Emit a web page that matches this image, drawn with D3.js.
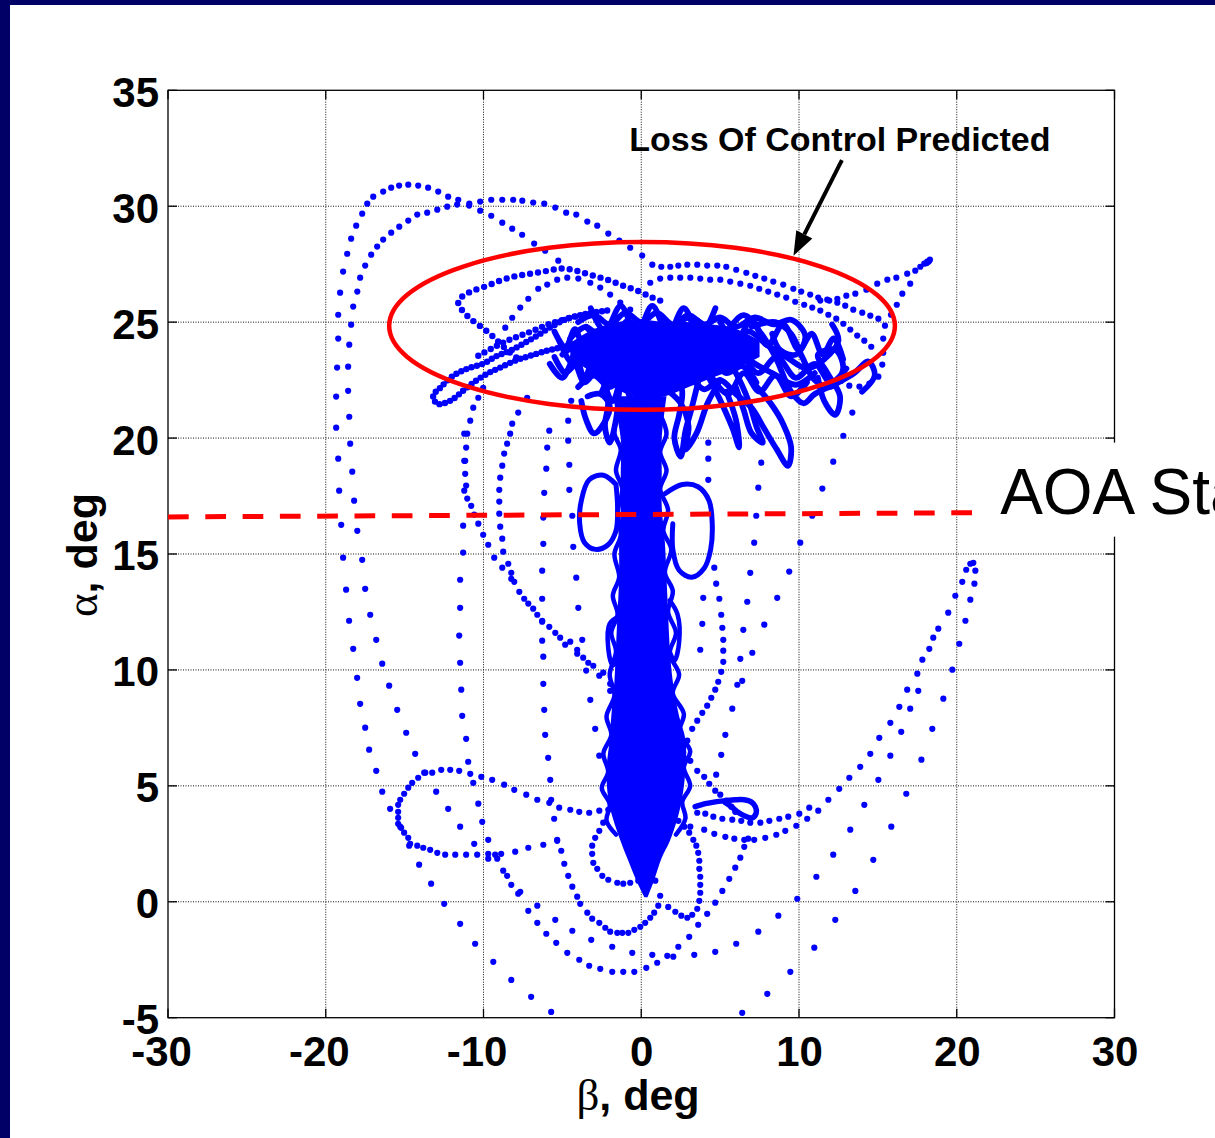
<!DOCTYPE html>
<html><head><meta charset="utf-8">
<script src="https://cdn.jsdelivr.net/npm/d3@7"></script>
<style>body{margin:0;background:#fff}svg{display:block}</style>
</head><body>
<svg id="c" width="1215" height="1138"></svg>
<script>
// ---------- axis ticks ----------
const xTicks = [-30,-20,-10,0,10,20,30];
const yTicks = [-5,0,5,10,15,20,25,30,35];

// ---------- sparse dotted trajectories [beta, alpha] (dots) ----------
const trajOuter = [[-5.26,27.65],[-6.09,28.08],[-6.79,28.39],[-7.55,28.77],[-8.18,29.03],[-8.81,29.29],[-9.51,29.59],[-10.21,29.81],[-10.91,30.03],[-11.6,30.28],[-12.24,30.41],[-12.87,30.63],[-13.51,30.8],[-14.14,30.89],[-14.77,30.93],[-15.35,30.89],[-15.85,30.8],[-16.36,30.63],[-16.99,30.41],[-17.37,30.11],[-17.69,29.68],[-18.07,29.16],[-18.39,28.6],[-18.64,27.95],[-18.9,27.18],[-19.09,26.27],[-19.21,25.32],[-19.21,24.29],[-19.28,23.04],[-19.34,21.79],[-19.34,20.45],[-19.21,19.11],[-19.15,17.73],[-19.02,16.26],[-18.9,14.84],[-18.71,13.46],[-18.52,12.12],[-18.26,10.91],[-18.01,9.66],[-17.82,8.54],[-17.5,7.51],[-17.25,6.56],[-16.8,5.65],[-16.42,4.75],[-15.92,4.01],[-15.28,3.24],[-14.71,2.42],[-14.08,1.6],[-13.32,0.78],[-12.49,-0.09],[-11.48,-0.95],[-10.53,-1.81],[-9.38,-2.59],[-8.24,-3.37],[-6.98,-4.1],[-5.71,-4.75],[6.4,-4.79],[7.99,-3.97],[9.45,-3.02],[10.97,-1.98],[12.3,-0.78],[13.57,0.47],[14.71,1.81],[15.85,3.24],[16.8,4.66],[17.76,6.13],[18.45,7.46],[19.15,8.76],[19.72,10.01],[20.16,11.13],[20.55,12.12],[20.86,13.03],[21.12,13.72],[21.18,14.28],[21.05,14.62]];
const trajInner = [[15.03,25.15],[14.52,25.28],[14.01,25.41],[13.44,25.54],[12.93,25.71],[12.43,25.84],[11.79,25.97],[11.22,26.06],[10.71,26.19],[10.14,26.32],[9.64,26.44],[9.0,26.62],[8.37,26.75],[7.8,26.88],[7.23,27.0],[6.66,27.13],[6.02,27.26],[5.39,27.39],[4.82,27.44],[4.18,27.44],[3.55,27.48],[2.92,27.48],[2.35,27.44],[1.84,27.39],[1.27,27.39],[0.7,27.48],[0.06,27.87],[-0.7,28.21],[-1.39,28.52],[-2.09,28.82],[-2.79,29.16],[-3.42,29.34],[-4.12,29.64],[-4.76,29.72],[-5.45,29.94],[-6.15,30.11],[-6.85,30.16],[-7.54,30.24],[-8.12,30.28],[-8.81,30.28],[-9.51,30.28],[-10.21,30.2],[-10.9,30.11],[-11.67,30.07],[-12.3,29.98],[-12.93,29.85],[-13.57,29.72],[-14.2,29.64],[-14.77,29.38],[-15.34,29.12],[-15.85,28.86],[-16.36,28.56],[-16.74,28.26],[-17.12,27.91],[-17.5,27.44],[-17.82,26.92],[-18.0,26.32],[-18.26,25.67],[-18.39,24.89],[-18.51,24.03],[-18.58,23.08],[-18.58,22.04],[-18.51,20.92],[-18.45,19.76],[-18.32,18.55],[-18.2,17.3],[-18.0,16.0],[-17.69,14.75],[-17.5,13.5],[-17.18,12.38],[-16.8,11.3],[-16.42,10.27],[-15.98,9.32],[-15.47,8.28],[-14.9,7.29],[-14.33,6.38],[-13.69,5.57],[-13.0,4.75],[-12.24,4.01],[-11.48,3.24],[-10.59,2.5],[-9.7,1.86],[-8.75,1.34],[-8.24,0.73],[-7.67,0.43],[-7.16,-0.39],[-6.59,-0.91],[-6.02,-1.38],[-5.39,-1.77],[-4.69,-2.2],[-3.93,-2.5],[-3.3,-2.76],[-2.6,-2.89],[-1.84,-3.02],[-1.14,-3.02],[-0.44,-3.02],[0.32,-2.85],[1.01,-2.63],[1.65,-2.33],[2.35,-1.94],[3.04,-1.51],[3.61,-0.99],[4.18,-0.52],[4.69,-0.04],[5.14,0.47],[5.58,0.99],[5.96,1.47],[6.28,1.9],[6.53,2.37],[6.78,2.72],[7.16,2.67],[7.86,2.76],[8.56,2.89],[9.13,3.06],[9.83,3.28],[10.52,3.58],[11.22,3.93],[11.86,4.4],[12.55,4.87],[13.19,5.35],[13.88,5.82],[14.52,6.38],[15.09,7.07],[15.79,7.72],[16.36,8.41],[16.86,9.15],[17.5,9.84],[17.82,10.44],[18.26,10.91],[18.51,11.39],[18.83,11.78],[19.46,12.47],[19.91,13.2],[20.35,13.8],[20.6,14.32],[20.86,14.58]];
const trajLeftDrop = [[-11.22,20.19],[-11.22,19.02],[-11.22,17.73],[-11.29,16.22],[-11.29,15.06],[-11.48,13.89],[-11.48,12.68],[-11.54,11.48],[-11.48,10.31],[-11.41,9.15],[-11.35,8.02],[-11.1,7.03],[-10.97,6.04],[-10.65,5.13],[-10.33,4.23],[-10.08,3.45],[-9.7,2.67],[-9.13,1.86],[-8.5,1.12],[-7.8,0.35],[-6.59,-0.17],[-5.45,-0.78],[-4.37,-1.25],[-3.17,-1.64],[-1.84,-1.94],[-0.57,-2.2],[0.7,-2.29],[2.03,-2.37],[3.36,-2.29],[4.69,-2.16],[6.02,-1.81],[7.42,-1.29],[8.69,-0.6],[9.89,0.13],[11.1,1.08],[12.17,2.03],[13.25,3.11],[14.14,4.18],[15.03,5.26],[15.79,6.3],[16.48,7.33],[17.05,8.33],[17.56,9.1]];
const trajMidDrop = [[-5.83,20.32],[-5.96,19.59],[-6.02,18.68],[-6.15,17.64],[-6.21,16.57],[-6.21,15.44],[-6.28,14.28],[-6.28,13.07],[-6.28,12.08],[-6.28,11.26],[-6.21,10.57],[-6.21,9.4],[-6.15,8.28],[-6.09,7.2],[-5.9,6.21],[-5.77,5.26],[-5.71,4.4],[-5.52,3.58],[-5.33,2.67],[-5.07,2.2],[-4.88,1.64],[-4.63,1.12],[-4.37,0.65],[-4.06,0.22],[-3.87,-0.09],[-3.42,-0.47],[-3.11,-0.73],[-2.66,-0.91],[-2.28,-1.12],[-1.97,-1.29],[-1.52,-1.34],[-1.2,-1.34],[-0.82,-1.34],[-0.44,-1.21],[-0.06,-1.08],[0.25,-0.91],[0.57,-0.69],[0.82,-0.47],[1.08,-0.17]];
const trajDropA = [[-7.23,21.74],[-7.8,21.1],[-8.18,20.62],[-8.31,20.19],[-8.5,19.76],[-8.69,19.33],[-8.81,18.81],[-8.94,18.29],[-9.0,17.77],[-9.0,17.26],[-9.0,16.74],[-8.94,16.18],[-8.81,15.66],[-8.75,15.1],[-8.43,14.58],[-8.24,14.19],[-8.05,13.8],[-7.73,13.37],[-7.16,12.86],[-6.59,12.38],[-5.83,11.86],[-5.14,11.39],[-4.5,11.22],[-4.06,10.87],[-3.68,10.53],[-3.04,10.18],[-2.41,9.88],[-1.97,9.4]];
const trajDropB = [[-10.02,22.17],[-10.33,21.74],[-10.65,21.31],[-10.84,20.75],[-11.03,20.19],[-11.1,19.59],[-11.16,19.02],[-11.16,18.46],[-11.1,17.95],[-11.03,17.39],[-10.78,17.08],[-10.59,16.7],[-10.33,16.31],[-10.02,15.83],[-9.7,15.4],[-9.32,14.84],[-8.81,14.41],[-8.24,13.93],[-7.42,13.07],[-6.85,12.64],[-6.28,12.12],[-5.45,11.6],[-4.82,11.09],[-4.06,10.7],[-3.36,10.31],[-2.66,9.75],[-1.97,9.1]];
const trajDropC = [[-4.44,21.61],[-4.63,20.75],[-4.63,19.89],[-4.56,18.85],[-4.56,17.77],[-4.37,16.65],[-4.31,15.31],[-4.12,13.98],[-3.99,12.68],[-3.74,11.3],[-3.49,9.97],[-3.23,8.71],[-2.92,7.46],[-2.66,6.3]];
const trajRightA = [[13.38,21.1],[12.81,20.1],[12.17,18.98],[11.48,17.82],[10.84,16.65],[10.08,15.49],[9.38,14.24],[8.62,13.11],[7.8,11.95],[7.04,10.74],[6.4,9.53],[5.77,8.33],[5.33,7.2],[5.07,6.34],[4.75,5.48]];
const trajRightB = [[7.61,18.94],[7.42,17.86],[7.29,16.65],[7.16,15.49],[6.91,14.19],[6.72,12.94],[6.47,11.73],[6.28,10.48],[6.09,9.36]];
const trajRightC = [[4.25,19.8],[4.25,19.11],[4.25,18.2],[4.63,14.41],[4.75,13.72],[4.95,13.07],[5.07,12.38],[5.14,11.82],[5.2,11.3],[5.2,10.83],[5.2,10.35],[5.07,9.92],[4.88,9.49],[4.69,9.15],[4.44,8.8],[4.18,8.46],[3.87,8.15],[3.55,7.81],[3.23,7.46],[2.92,6.95],[2.66,6.43]];
const trajRightD = [[3.93,13.11],[3.87,11.99],[3.74,10.87]];
const loopLowLeft = [[-1.33,4.14],[-2.09,3.97],[-2.66,3.93],[-3.3,3.84],[-3.93,3.88],[-4.5,3.97],[-5.2,4.06],[-5.83,4.27],[-6.59,4.4],[-7.29,4.62],[-8.05,4.83],[-8.69,5.05],[-9.45,5.26],[-10.14,5.39],[-10.84,5.52],[-11.54,5.65],[-12.11,5.69],[-12.68,5.69],[-13.25,5.57],[-13.76,5.57],[-14.14,5.35],[-14.52,5.13],[-14.77,4.92],[-15.03,4.66],[-15.28,4.4],[-15.41,4.18],[-15.41,3.88],[-15.41,3.62],[-15.41,3.36],[-15.22,3.19],[-15.03,2.98],[-14.77,2.76],[-14.65,2.5],[-14.2,2.42],[-13.82,2.33],[-13.38,2.24],[-12.93,2.11],[-12.43,2.03],[-11.79,2.03],[-11.1,2.03],[-10.4,2.03],[-9.7,2.07],[-9.26,2.03],[-8.88,2.07],[-7.99,2.16],[-7.16,2.33],[-6.21,2.46],[-5.33,2.63]];
const loopLowMid = [[-2.41,3.41],[-2.66,3.06],[-2.92,2.76],[-3.11,2.42],[-3.11,2.07],[-3.04,1.68],[-2.79,1.42],[-2.47,1.12],[-2.09,0.95],[-1.52,0.82],[-1.14,0.78],[-0.7,0.82],[-0.19,0.91]];
const loopLowRight = [[0.89,0.91],[1.2,0.26],[1.71,-0.22],[2.16,-0.43],[2.54,-0.6],[2.92,-0.69],[3.23,-0.56],[3.55,-0.3],[3.68,0.04],[3.74,0.39],[3.74,0.73],[3.74,1.08],[3.68,1.42],[3.68,1.77],[3.61,2.11],[3.49,2.42],[3.3,2.67],[3.04,2.98],[2.73,3.24],[2.35,3.49],[1.9,3.71]];
const arcLow1 = [[3.55,3.84],[4.06,3.8],[4.57,3.67],[5.14,3.58],[5.77,3.54],[6.34,3.49],[6.91,3.41],[7.55,3.41],[8.12,3.49],[8.75,3.58],[9.32,3.67],[10.02,3.8],[10.65,4.06]];
const arcLow2 = [[3.11,3.24],[3.99,3.11],[4.63,2.93],[5.33,2.8],[5.9,2.72],[6.53,2.67]];
const diagLow = [[3.11,6.08],[3.55,5.65],[3.99,5.39],[4.31,5.09],[4.69,4.79],[5.01,4.62],[5.39,4.36],[5.71,4.1],[5.96,3.88]];
const arcTopA = [[0.57,26.7],[1.2,26.88],[1.84,26.92],[2.47,26.92],[3.11,26.92],[3.74,26.88],[4.37,26.83],[5.01,26.83],[5.64,26.75],[6.28,26.66],[6.91,26.57],[7.48,26.44],[8.05,26.32],[8.62,26.19],[9.19,26.06],[9.76,25.88],[10.33,25.75],[10.84,25.63],[11.35,25.5],[11.86,25.32],[12.36,25.15],[12.81,24.93],[13.25,24.68],[13.69,24.42],[14.14,24.2],[14.58,23.94]];
const tailTop = [[11.35,25.93],[11.92,25.93],[12.43,26.01],[13.0,26.14],[13.57,26.23],[14.27,26.4],[14.96,26.66],[15.6,26.83],[16.17,26.92],[16.86,27.09],[17.37,27.22],[17.69,27.39],[17.94,27.52],[18.13,27.61],[18.26,27.65]];
const tailEnd = [[18.1,27.55],[18.3,27.7],[18.2,27.6]];
const loopRight = [[17.05,26.66],[16.55,26.23],[16.2,25.75],[15.83,25.32],[15.45,24.85],[15.34,24.29],[15.34,23.68],[15.28,23.17],[15.03,22.65],[14.46,22.35],[13.83,22.22],[13.19,22.26],[12.68,22.47]];
const arcTopC = [[-8.62,24.76],[-8.18,25.19],[-7.67,25.63],[-7.16,26.01],[-6.53,26.44],[-5.96,26.62],[-5.33,26.83],[-4.69,26.92],[-3.99,26.88],[-3.23,26.7],[-2.6,26.49],[-1.97,26.19],[-1.33,25.84],[-0.7,25.54]];

// ---------- beaded (closely dotted) trajectories ----------
const loopTopLeft = [[1.2,25.93],[0.57,26.1],[-0.25,26.36],[-1.14,26.57],[-1.97,26.79],[-2.79,26.96],[-3.68,27.13],[-4.37,27.26],[-5.14,27.31],[-5.9,27.22],[-6.66,27.13],[-7.42,27.05],[-8.12,26.96],[-8.94,26.79],[-9.76,26.57],[-10.65,26.36],[-11.29,26.14],[-11.6,25.88],[-11.48,25.63],[-11.16,25.37],[-10.84,25.15],[-10.33,24.89],[-9.76,24.59],[-9.26,24.29],[-8.81,23.99],[-8.31,23.68],[-7.8,23.42]];
const armLeft = [[-2.16,25.5],[-3.42,25.37],[-4.69,25.15],[-5.58,24.85],[-6.59,24.42],[-7.48,24.07],[-8.31,23.77],[-9.13,23.55],[-10.02,23.21],[-11.03,22.99],[-11.92,22.69],[-12.74,22.17],[-13.19,21.83],[-12.93,21.48],[-12.11,21.61],[-11.29,22.04],[-10.65,22.39],[-9.76,22.78],[-8.94,23.04],[-7.99,23.34],[-7.04,23.55],[-5.96,23.77],[-5.14,23.9],[-4.06,24.07],[-2.92,24.2]];
const armLeft2 = [[-10.33,23.55],[-9.38,23.9],[-8.5,24.2],[-7.67,24.42],[-6.85,24.63],[-5.96,24.89],[-5.14,25.06],[-4.18,25.24],[-3.23,25.32]];

// ---------- dense tangles (solid-looking) ----------
const messBeta   = [-4.5,-3,-1.5,0,1.5,3,4.5,6,7.5];
const messTop    = [24.1,24.7,25.0,25.1,25.0,25.0,24.9,24.7,24.2];
const messBottom = [23.4,22.8,22.1,21.7,21.8,22.2,22.6,23.0,23.5];
const messLines = [
 [[-4,25.0],[-3,25.3],[-2,24.9],[-1,25.4],[0,25.0],[1,25.4],[2,24.9],[3,25.3],[4,24.9],[5,25.2],[6,24.8],[7.2,25.2],[8.4,24.9],[9.5,25.1],[10.4,24.4],[9.8,23.6],[8.8,23.8],[8.3,24.5]],
 [[-4.5,24.3],[-3.5,24.8],[-2.5,24.3],[-1.5,24.8],[-0.5,24.2],[0.5,24.7],[1.5,24.2],[2.5,24.8],[3.5,24.3],[4.5,24.7],[5.5,24.2],[6.8,24.6],[8,24.0],[9.2,23.5],[10.5,23.0],[11.6,23.4],[12.5,24.2],[12.1,24.9]],
 [[-5,23.6],[-4,24.0],[-3,23.5],[-2,24.1],[-1,23.6],[0,24.0],[1,23.5],[2,24.1],[3,23.6],[4,24.0],[5,23.5],[6,23.9],[7,23.3],[8.3,22.8],[9.8,22.3],[11,22.8]],
 [[-4.6,22.9],[-3.6,23.4],[-2.6,22.9],[-1.6,23.4],[-0.6,22.9],[0.4,23.4],[1.4,22.8],[2.4,23.3],[3.4,22.8],[4.4,23.3],[5.4,22.8],[6.4,23.1],[7.3,22.4]],
 [[-4,22.2],[-3,22.7],[-2,22.2],[-1,22.7],[0,22.2],[1,22.6],[2,22.1],[3,22.6],[4,22.1],[5,22.5],[6,21.9],[7.0,21.3],[7.8,20.4],[8.6,19.5],[9.3,18.8],[9.5,19.6],[9.0,20.6],[8.2,21.5],[7.2,22.3]],
 [[-3.5,24.8],[-2,24.0],[-1,24.6],[0,23.6],[1,24.2],[2,23.2],[3,24.0],[4,23.0],[5,23.8],[6,22.8],[6.8,21.6],[7.3,20.5],[7.7,19.8],[7.0,20.2],[6.5,21.2],[6.0,22.2]],
 [[-2.5,22.0],[-1.5,23.0],[-0.5,22.0],[0.5,23.2],[1.5,22.2],[2.5,21.5],[3,20.5],[2.8,19.5],[3.5,20.2],[4.2,21.5],[5,22.5]],
 [[7,24.8],[8.5,25.0],[9.5,24.5],[10.2,23.5],[11,22.5],[12,22.2],[12.8,23.0],[12.3,23.8],[11.2,23.6],[11.8,22.8],[12.6,21.8],[12.3,21.0],[11.6,21.6],[11.2,22.6]],
 [[-1,25.0],[1,24.2],[3,25.2],[5,24.5],[6.5,25.3],[7.5,24.6],[8.5,23.5],[9.5,22.0],[10.3,21.5],[11,21.9],[12.5,22.4],[13.5,22.8],[14.4,23.3],[14.8,22.7],[14.0,22.0]],
 [[-5.5,23.5],[-4.8,22.8],[-4.2,23.6],[-3.6,22.6],[-3,23.4],[-2.4,22.4],[-1.8,21.6],[-1.2,22.6],[-0.5,21.5],[0.3,22.5]],
 [[-2.5,23.5],[-2.3,22.5],[-2.1,21.5],[-2.3,20.5],[-2.0,19.8],[-1.6,20.8],[-1.4,22.0],[-1.2,23.0]],
 [[2.2,23.0],[2.6,22.0],[2.4,21.0],[2.1,20.0],[2.5,19.2],[2.8,20.3],[3.2,21.3],[3.6,22.4]],
 [[3.8,23.2],[4.6,22.2],[5.3,21.2],[5.8,20.4],[6.2,19.6],[6.0,20.8],[5.4,22.0]],
 [[-3.8,21.6],[-3.5,20.8],[-3.0,20.2],[-2.4,20.6],[-2.0,21.4],[-2.6,21.9],[-3.4,21.8]],
 [[-5.2,24.2],[-4.3,23.2],[-3.2,24.4],[-2.2,23.2],[-1.2,24.3],[-0.2,23.1],[0.8,24.4],[1.8,23.0],[2.8,24.4],[3.8,23.1],[4.8,24.3],[5.8,23.0],[6.8,24.2]],
 [[-3.2,25.6],[-2.3,24.6],[-1.3,25.7],[-0.3,24.5],[0.7,25.7],[1.7,24.5],[2.7,25.6],[3.7,24.4],[4.7,25.6]],
 [[5,25.0],[6,24.2],[7,25.1],[8,24.0],[9,24.9],[10,23.8],[10.8,24.5],[11.5,23.6],[12.2,24.3],[12.8,23.4]],
 [[5,23.0],[6.2,23.6],[7.4,22.8],[8.6,23.5],[9.8,22.6],[11,23.2],[12,22.4],[13,23.0]],
 [[4.5,22.6],[5.5,21.9],[6.5,22.8],[7.5,22.0],[8.5,22.7],[9.5,21.8],[10.5,22.4]],
 [[-5.5,24.6],[-4.8,23.9],[-4.2,24.7],[-3.6,23.8],[-3.0,24.6]],
 [[-5.8,23.2],[-5.0,22.6],[-4.3,23.3],[-3.6,22.4],[-2.8,23.1]]
];
const columnEdges = [
 [[-1.5,21.0],[-1.7,20.2],[-1.3,19.5],[-1.6,18.6],[-1.2,17.8],[-1.5,16.8],[-1.3,15.8],[-1.7,15.0],[-1.4,14.0],[-1.8,13.2],[-1.5,12.4],[-1.9,11.6],[-1.6,10.8],[-2.0,9.8],[-1.7,8.9],[-2.2,8.0],[-1.9,7.2],[-2.4,6.4],[-2.1,5.6],[-2.5,4.9],[-2.0,4.2],[-2.2,3.5],[-1.6,2.9]],
 [[-1.4,12.3],[-2.0,12.0],[-2.1,11.0],[-1.8,10.2],[-1.4,10.6]],
 [[1.2,21.0],[1.6,20.2],[1.2,19.4],[1.6,18.6],[1.2,17.8],[1.7,16.9],[1.4,16.0],[1.9,15.2],[1.5,14.2],[2.0,13.4],[1.7,12.5],[2.2,11.6],[1.8,10.7],[2.4,9.8],[2.0,9.0],[2.7,8.1],[2.4,7.3],[3.1,6.5],[2.7,5.8],[3.1,5.0],[2.6,4.3],[2.8,3.6],[2.2,2.9]],
 [[1.8,13.0],[2.3,12.4],[2.4,11.2],[2.1,10.4],[1.8,10.8]]
];
const ringLeft = [[-1.6,18.0],[-2.4,18.4],[-3.3,18.2],[-3.8,17.3],[-3.9,16.3],[-3.6,15.5],[-2.9,15.2],[-2.1,15.4],[-1.6,16.0],[-1.5,17.0],[-1.6,18.0]];
const ringRight = [[1.5,17.6],[2.6,18.0],[3.6,17.9],[4.3,17.3],[4.5,16.3],[4.4,15.2],[4.0,14.4],[3.2,14.0],[2.4,14.3],[2.0,15.2],[2.0,16.3]];
const loopSmallRight = [[3.42,4.1],[4.06,4.23],[4.69,4.31],[5.33,4.36],[5.96,4.4],[6.53,4.4],[6.97,4.31],[7.23,4.1],[7.29,3.84],[7.04,3.62],[6.53,3.71],[6.09,3.88],[5.71,4.1],[5.33,4.27]];

// dense column envelope
const colAlpha = [21.8,20,18.5,17,15.5,14,12.5,11,9.5,8,7,5.7,4.5,3.6,2.6,1.9,0.9,0.2];
const colLeft  = [-1.8,-1.3,-1.3,-1.3,-1.4,-1.4,-1.5,-1.6,-1.7,-1.9,-2.0,-2.2,-2.1,-1.8,-1.3,-0.9,-0.3,0.2];
const colRight = [1.6,1.3,1.3,1.3,1.5,1.6,1.7,1.8,2.0,2.4,2.8,2.8,2.6,2.3,1.8,1.3,0.8,0.4];

// annotations
const lossEllipse = {beta:0.05, alpha:24.84, rBeta:16.03, rAlpha:3.62};
const stallLine = [[-30,16.6],[21.17,16.78]];
const arrowPts = [[12.72,31.99],[9.65,27.86]];
const titleText = "Loss Of Control Predicted";
const stallText = "AOA Stall";

// ---------- drawing ----------
const W=1215,H=1138;
const svg=d3.select('#c');
const x=d3.scaleLinear().domain([-30,30]).range([168,1114.5]);
const y=d3.scaleLinear().domain([-5,35]).range([1017.7,90.3]);
const BLUE='#0000ff';
const FONT='"Liberation Sans", Arial, sans-serif';

svg.append('rect').attr('width',W).attr('height',H).attr('fill','#fff');
svg.append('rect').attr('x',0).attr('y',0).attr('width',W).attr('height',5).attr('fill','#000066');
svg.append('rect').attr('x',0).attr('y',0).attr('width',10).attr('height',H).attr('fill','#000066');

// grid
const g=svg.append('g');
g.selectAll('.gx').data(xTicks.slice(1,-1)).join('line')
 .attr('x1',d=>x(d)).attr('x2',d=>x(d)).attr('y1',y(-5)).attr('y2',y(35))
 .attr('stroke','#111').attr('stroke-width',1).attr('stroke-dasharray','1,1.5');
g.selectAll('.gy').data(yTicks.slice(1,-1)).join('line')
 .attr('y1',d=>y(d)).attr('y2',d=>y(d)).attr('x1',x(-30)).attr('x2',x(30))
 .attr('stroke','#111').attr('stroke-width',1).attr('stroke-dasharray','1,1.5');

// clip for data
svg.append('clipPath').attr('id','pc').append('rect')
 .attr('x',x(-30)).attr('y',y(35)).attr('width',x(30)-x(-30)).attr('height',y(-5)-y(35));
const dg=svg.append('g').attr('clip-path','url(#pc)');

// dense column
const colData=colAlpha.map((a,i)=>[a,colLeft[i],colRight[i]]);
dg.append('path').datum(colData)
 .attr('d',d3.area().y(d=>y(d[0])).x0(d=>x(d[1])).x1(d=>x(d[2])).curve(d3.curveCatmullRom))
 .attr('fill',BLUE);
// dense core of the tangle
const messData=messBeta.map((b,i)=>[b,messBottom[i],messTop[i]]);
dg.append('path').datum(messData)
 .attr('d',d3.area().x(d=>x(d[0])).y0(d=>y(d[1])).y1(d=>y(d[2])).curve(d3.curveCatmullRom))
 .attr('fill',BLUE);

const lineGen=d3.line().x(d=>x(d[0])).y(d=>y(d[1])).curve(d3.curveCatmullRom);
function solid(pts,w){dg.append('path').datum(pts).attr('d',lineGen).attr('fill','none')
 .attr('stroke',BLUE).attr('stroke-width',w).attr('stroke-linecap','round').attr('stroke-linejoin','round');}
function beaded(pts,gap){dg.append('path').datum(pts).attr('d',lineGen).attr('fill','none')
 .attr('stroke',BLUE).attr('stroke-width',6.4).attr('stroke-linecap','round').attr('stroke-dasharray','0 '+gap);}
function dots(pts){dg.append('g').selectAll('circle').data(pts).join('circle')
 .attr('cx',d=>x(d[0])).attr('cy',d=>y(d[1])).attr('r',3.1).attr('fill',BLUE);}

messLines.forEach(p=>solid(p,5.8));
columnEdges.forEach(p=>solid(p,4.5));
solid(ringLeft,5); solid(ringRight,5); solid(loopSmallRight,5.5);
beaded(armLeft,5.5); beaded(armLeft2,7); beaded(loopTopLeft,8);
[trajOuter,trajInner,trajLeftDrop,trajMidDrop,trajDropA,trajDropB,trajDropC,trajRightA,trajRightB,trajRightC,trajRightD,
 loopLowLeft,loopLowMid,loopLowRight,arcLow1,arcLow2,diagLow,arcTopA,tailTop,tailEnd,loopRight,arcTopC].forEach(dots);

// frame and ticks
svg.append('rect').attr('x',x(-30)).attr('y',y(35)).attr('width',x(30)-x(-30)).attr('height',y(-5)-y(35))
 .attr('fill','none').attr('stroke','#000').attr('stroke-width',1.3);
const tk=svg.append('g').attr('stroke','#000').attr('stroke-width',1.3);
xTicks.forEach(d=>{tk.append('line').attr('x1',x(d)).attr('x2',x(d)).attr('y1',y(-5)).attr('y2',y(-5)-9);
 tk.append('line').attr('x1',x(d)).attr('x2',x(d)).attr('y1',y(35)).attr('y2',y(35)+9);});
yTicks.forEach(d=>{tk.append('line').attr('y1',y(d)).attr('y2',y(d)).attr('x1',x(-30)).attr('x2',x(-30)+9);
 tk.append('line').attr('y1',y(d)).attr('y2',y(d)).attr('x1',x(30)).attr('x2',x(30)-9);});

// axes labels via d3 axes
const ax=svg.append('g').attr('transform',`translate(0,${y(-5)})`)
 .call(d3.axisBottom(x).tickValues(xTicks).tickSize(0).tickPadding(18).tickFormat(d=>String(d)));
ax.select('.domain').remove();
ax.selectAll('text').attr('font-family',FONT).attr('font-weight','bold').attr('font-size',42).attr('fill','#000')
 .attr('dx',d=>d<0?-7:0);
const ay=svg.append('g').attr('transform',`translate(${x(-30)},0)`)
 .call(d3.axisLeft(y).tickValues(yTicks).tickSize(0).tickPadding(9).tickFormat(d=>String(d)));
ay.select('.domain').remove();
ay.selectAll('text').attr('font-family',FONT).attr('font-weight','bold').attr('font-size',42).attr('fill','#000').attr('dy','0.38em');

// axis titles
const xt=svg.append('text').attr('x',638).attr('y',1110).attr('text-anchor','middle')
 .attr('font-family',FONT).attr('font-weight','bold').attr('font-size',43);
xt.append('tspan').attr('font-family','"Liberation Serif", serif').attr('font-weight','normal').attr('font-size',45).text('β');
xt.append('tspan').text(', deg');
const yt=svg.append('text').attr('transform','translate(97,555) rotate(-90)').attr('text-anchor','middle')
 .attr('font-family',FONT).attr('font-weight','bold').attr('font-size',43);
yt.append('tspan').attr('font-family','"Liberation Serif", serif').attr('font-weight','normal').attr('font-size',45).text('α');
yt.append('tspan').text(', deg');

// stall line
svg.append('line').attr('x1',x(stallLine[0][0])).attr('y1',y(stallLine[0][1]))
 .attr('x2',x(stallLine[1][0])).attr('y2',y(stallLine[1][1]))
 .attr('stroke','#ff0000').attr('stroke-width',5).attr('stroke-dasharray','20.7,16.6');

// loss-of-control ellipse
svg.append('ellipse').attr('cx',x(lossEllipse.beta)).attr('cy',y(lossEllipse.alpha))
 .attr('rx',x(lossEllipse.rBeta)-x(0)).attr('ry',y(0)-y(lossEllipse.rAlpha))
 .attr('fill','none').attr('stroke','#ff0000').attr('stroke-width',4.5);

// arrow
const [ax0,ay0]=[x(arrowPts[0][0]),y(arrowPts[0][1])];
const [ax1,ay1]=[x(arrowPts[1][0]),y(arrowPts[1][1])];
const ang=Math.atan2(ay1-ay0,ax1-ax0), hl=24, hw=9;
const bx=ax1-hl*Math.cos(ang), by=ay1-hl*Math.sin(ang);
svg.append('line').attr('x1',ax0).attr('y1',ay0).attr('x2',bx).attr('y2',by)
 .attr('stroke','#000').attr('stroke-width',4);
svg.append('path').attr('d',`M${ax1},${ay1}L${bx+hw*Math.sin(ang)},${by-hw*Math.cos(ang)}L${bx-hw*Math.sin(ang)},${by+hw*Math.cos(ang)}Z`)
 .attr('fill','#000');

// title annotation
svg.append('text').attr('x',x(-0.76)).attr('y',y(32.39)).attr('font-family',FONT).attr('font-weight','bold')
 .attr('font-size',34).attr('fill','#000').text(titleText);

// AOA stall label with white box
const box=svg.append('rect').attr('fill','#fff');
const st=svg.append('text').attr('x',x(22.75)).attr('y',y(16.74)).attr('font-family',FONT)
 .attr('font-size',64).attr('fill','#000').text(stallText);
const bb=st.node().getBBox();
box.attr('x',bb.x-15).attr('y',bb.y-13).attr('width',W-bb.x+15).attr('height',bb.height+22);
</script>
</body></html>
